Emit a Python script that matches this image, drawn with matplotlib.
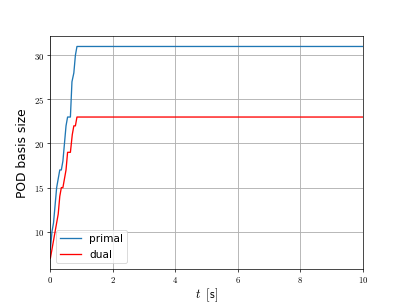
import matplotlib
matplotlib.use("Agg")
import matplotlib.pyplot as plt
from matplotlib.ticker import FuncFormatter

plt.rcParams['mathtext.fontset'] = 'cm'

primal_t = [0, 0.05, 0.1, 0.15, 0.2, 0.25, 0.3, 0.35, 0.4, 0.45, 0.5, 0.55, 0.6, 0.64, 0.69, 0.75, 0.8, 0.85, 10]
primal_v = [8, 10, 11, 13, 15, 16, 17, 17, 18, 20, 22, 23, 23, 23, 27, 28, 30, 31, 31]
dual_t = [0, 0.05, 0.1, 0.15, 0.2, 0.25, 0.3, 0.35, 0.4, 0.45, 0.5, 0.55, 0.6, 0.64, 0.7, 0.75, 0.8, 0.85, 10]
dual_v = [7, 8, 9, 10, 11, 12, 14, 15, 15, 16, 17, 19, 19, 19, 21, 22, 22, 23, 23]

fig, ax = plt.subplots(figsize=(6.4, 4.8), dpi=63)
ax.plot(primal_t, primal_v, color='#1f77b4', lw=1.5, label='primal')
ax.plot(dual_t, dual_v, color='red', lw=1.5, label='dual')
ax.set_xlim(0, 10)
ax.grid(True, lw=1.0)
fmt = FuncFormatter(lambda v, p: f'${v:g}$')
ax.xaxis.set_major_formatter(fmt)
ax.yaxis.set_major_formatter(fmt)
ax.tick_params(labelsize=10)
ax.set_xlabel(r'$t\ \;[\mathsf{s}]$', fontsize=14, labelpad=1)
ax.set_ylabel('POD basis size', fontsize=14, labelpad=6)
ax.legend(loc='lower left', fontsize=12)
fig.savefig('out.png', dpi=63)
